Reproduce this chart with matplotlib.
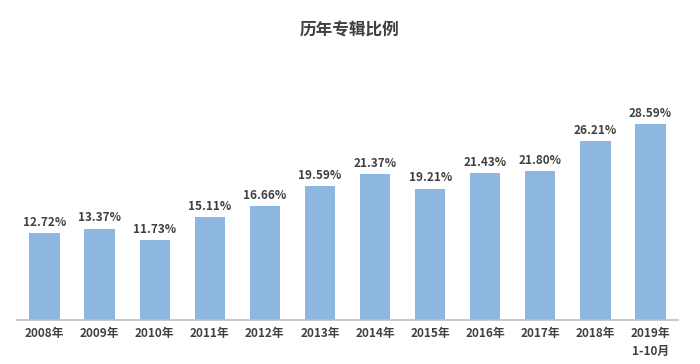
import matplotlib
matplotlib.use("Agg")
import matplotlib.pyplot as plt

plt.rcParams['font.family'] = ['Noto Sans CJK SC', 'DejaVu Sans']

categories = ["2008年", "2009年", "2010年", "2011年", "2012年", "2013年",
              "2014年", "2015年", "2016年", "2017年", "2018年", "2019年\n1-10月"]
values = [12.72, 13.37, 11.73, 15.11, 16.66, 19.59, 21.37, 19.21, 21.43, 21.80, 26.21, 28.59]
title = "历年专辑比例"

fig = plt.figure(figsize=(7.0, 3.64), dpi=100)
ax = fig.add_axes([17/700, 44/364, (678-17)/700, (320-80)/364])
x = list(range(len(values)))
bars = ax.bar(x, values, width=0.55, color="#8DB6E0", zorder=2)
ax.set_xlim(-0.5, len(values) - 0.5)
ax.set_ylim(0, 240/6.84)
for xi, v in zip(x, values):
    ax.text(xi, v + 0.6, f"{v:.2f}%", ha="center", va="bottom",
            fontsize=8.5, fontweight="bold", color="#404040")
ax.set_xticks(x)
ax.set_xticklabels(categories, fontsize=8.5, fontweight="bold", color="#404040",
                   linespacing=1.5, va="top")
ax.tick_params(axis="x", length=0, pad=5)
ax.set_yticks([])
for s in ["top", "right", "left"]:
    ax.spines[s].set_visible(False)
ax.spines["bottom"].set_color("#BFBFBF")
ax.spines["bottom"].set_linewidth(1.2)
fig.text(0.5, 1 - 30/364, title, ha="center", va="center", fontsize=12,
         fontweight="bold", color="#404040")
fig.savefig("out.png", dpi=100, facecolor="white")
